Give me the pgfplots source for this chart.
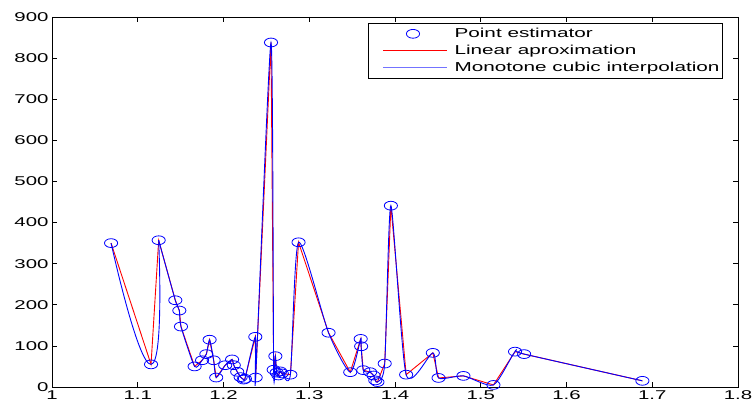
\documentclass[border=0pt]{standalone}
\usepackage{fontspec}
\setmainfont{Liberation Sans}[FakeStretch=1.6]
\usepackage{pgfplots}
\usepackage{pgfplotstable}
\pgfplotsset{compat=1.18}
\pgfplotsset{
  lineleg/.style={legend image code/.code={\path (0bp,0bp); \draw[##1] (11bp,0bp) -- (75bp,0bp);}},
  blueleg/.style={legend image code/.code={\path (0bp,0bp); \draw[##1,blue!55,line width=1.1pt] (11bp,0bp) -- (75bp,0bp);}},
  markleg/.style={legend image code/.code={\path (0bp,0bp); \draw[##1] plot coordinates {(41bp,0bp)}; \path (75bp,0bp);}},
}
\pgfplotstableread{
x y
1.0689 350
1.1155 55
1.1244 357
1.1438 211
1.1485 186
1.1504 147
1.1663 50
1.1750 65
1.1800 80
1.1838 115
1.1885 65
1.1915 23
1.2020 53
1.2100 67
1.2120 53
1.2160 37
1.2200 24
1.2235 18
1.2250 20
1.2371 122
1.2375 23
1.2554 838
1.2585 42
1.2605 75
1.2620 35
1.2640 28
1.2660 38
1.2680 33
1.2780 30
1.2875 352
1.3225 132
1.3478 36
1.3600 117
1.3605 99
1.3630 41
1.3710 36
1.3750 28
1.3770 16
1.3795 12
1.3880 57
1.3952 441
1.4130 30
1.4441 83
1.4508 22
1.4798 27
1.5148 5
1.5400 86
1.5506 80
1.6885 15
}\data
\begin{document}
\begin{tikzpicture}
\begin{axis}[
  scale only axis,
  width=686bp, height=370bp,
  xmin=1, xmax=1.8, ymin=0, ymax=900,
  xtick={1,1.1,1.2,1.3,1.4,1.5,1.6,1.7,1.8},
  ytick={0,100,200,300,400,500,600,700,800,900},
  /pgf/number format/assume math mode=true,
  font=\fontsize{12.8}{14}\selectfont,
  tick align=inside,
  major tick length=5bp,
  axis line style={line width=0.9pt},
  every tick/.style={black, line width=0.6pt},
  clip mode=individual,
  clip marker paths=false,
  legend cell align=left,
  legend style={at={(0.978,0.984)}, anchor=north east, draw=black, line width=0.8pt,
    inner xsep=3bp, inner ysep=4bp, row sep=4bp, column sep=7bp,
    nodes={inner sep=0pt, text height=10bp, text depth=3bp},
    font=\fontsize{13}{14}\selectfont},
]
\addplot[red, line width=0.9pt, lineleg, forget plot] table {\data};
\addplot[blue, line width=0.9pt, smooth, tension=0.4, restrict x to domain=1.12:1.8, forget plot] table {\data};
\addplot[blue, line width=0.9pt, smooth, tension=1, restrict x to domain=1:1.125, forget plot] table {\data};
\addplot[only marks, mark=o, blue, mark size=4.4bp, mark options={xscale=1.5, line width=0.8pt}, markleg] table {\data};
\addlegendentry{Point estimator}
\addlegendimage{red, line width=0.9pt, lineleg}
\addlegendentry{Linear aproximation}
\addlegendimage{blue, line width=0.9pt, blueleg}
\addlegendentry{Monotone cubic interpolation}
\end{axis}
\pgfresetboundingbox
\path ([shift={(-52bp,-21bp)}]current axis.south west) rectangle ([shift={(15bp,17bp)}]current axis.north east);
\end{tikzpicture}
\end{document}
